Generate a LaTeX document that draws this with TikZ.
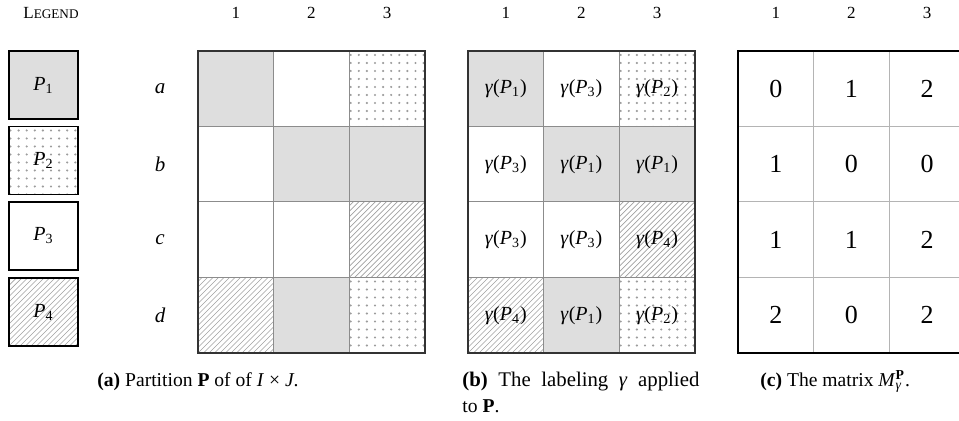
\documentclass[tikz,border=0pt]{standalone}
\usepackage{fontspec}
\setmainfont{Liberation Serif}
\definecolor{pfill}{HTML}{DEDEDE}
\definecolor{innerline}{HTML}{8C8C8C}
\definecolor{lightline}{HTML}{B4B4B4}
\definecolor{outerline}{HTML}{333333}
\definecolor{dotcol}{HTML}{9C9C9C}
\definecolor{hatchcol}{HTML}{A0A0A0}

% partition symbol P_k and its label gamma(P_k)
\newcommand\Pk[1]{\textit{P}\textsubscript{#1}}
\newcommand\gPk[1]{\textit{γ}(\Pk{#1})}
% one named cell of a grid
\newcommand\mkcell[5]{\node[cellbox,#4] (#1) at (#2,#3) {#5};}

\tikzset{
  cellbox/.style={minimum width=37.8pt, minimum height=37.75pt, inner sep=0pt,
    outer sep=0pt, draw=innerline, line width=0.5pt, font=\fontsize{10}{12}\selectfont},
  legbox/.style={minimum width=34.5pt, minimum height=34pt, inner sep=0pt,
    outer sep=0pt, draw=black, line width=0.6pt, font=\fontsize{10}{12}\selectfont},
  pone/.style={fill=pfill},
  pthree/.style={fill=white},
  ptwo/.style={path picture={
      \foreach \i in {0,...,9}{\foreach \j in {0,...,9}{
        \fill[dotcol] ([xshift=\i*4.05pt+0.75pt, yshift=-\j*4pt-2pt]path picture bounding box.north west) circle (0.6pt);}}}},
  pfour/.style={path picture={
      \foreach \k in {-16,...,16}{
        \draw[hatchcol, line width=0.35pt] ([xshift=\k*2.75pt]path picture bounding box.south west) -- ++(45pt,45pt);}}},
  numcell/.style={cellbox, draw=lightline, font=\fontsize{13}{15}\selectfont},
  frame/.style={draw=outerline, line width=0.8pt},
  hdr/.style={inner sep=0pt, font=\fontsize{8.5}{10}\selectfont},
  rowlab/.style={inner sep=0pt, font=\fontsize{10.5}{12}\selectfont\itshape},
  capt/.style={inner sep=0pt, anchor=base west, font=\fontsize{9.8}{13}\selectfont},
}

\begin{document}
\begin{tikzpicture}[x=0.5pt, y=-0.5pt]
\useasboundingbox (0,0) rectangle (959,421);

% ---- legend ----
\node[hdr] (leg) at (51,13) {{\fontsize{8.5}{10}\selectfont L}{\fontsize{6.6}{10}\selectfont EGEND}};
\node[legbox,pone]   (L1) at (43.5,85)  {\Pk{1}};
\node[legbox,ptwo]   (L2) at (43.5,160.5) {\Pk{2}};
\node[legbox,pthree] (L3) at (43.5,236) {\Pk{3}};
\node[legbox,pfour]  (L4) at (43.5,312) {\Pk{4}};

% ---- row labels ----
\node[rowlab] (ra) at (160,88.75)  {a};
\node[rowlab] (rb) at (160,164.25) {b};
\node[rowlab] (rc) at (160,239.75) {c};
\node[rowlab] (rd) at (160,315.25) {d};

% ---- column headers ----
\foreach \x/\n in {235.8/1,311.4/2,387/3}{\node[hdr] (ha\n) at (\x,13) {\n};}
\foreach \x/\n in {505.8/1,581.4/2,657/3}{\node[hdr] (hb\n) at (\x,13) {\n};}
\foreach \x/\n in {775.8/1,851.4/2,927/3}{\node[hdr] (hc\n) at (\x,13) {\n};}

% ---- (a) partition P ----
\mkcell{a11}{235.8}{88.75}{pone}{}
\mkcell{a12}{311.4}{88.75}{pthree}{}
\mkcell{a13}{387}{88.75}{ptwo}{}
\mkcell{a21}{235.8}{164.25}{pthree}{}
\mkcell{a22}{311.4}{164.25}{pone}{}
\mkcell{a23}{387}{164.25}{pone}{}
\mkcell{a31}{235.8}{239.75}{pthree}{}
\mkcell{a32}{311.4}{239.75}{pthree}{}
\mkcell{a33}{387}{239.75}{pfour}{}
\mkcell{a41}{235.8}{315.25}{pfour}{}
\mkcell{a42}{311.4}{315.25}{pone}{}
\mkcell{a43}{387}{315.25}{ptwo}{}
\draw[frame] (a11.north west) rectangle (a43.south east);

% ---- (b) labeling gamma ----
\mkcell{b11}{505.8}{88.75}{pone}{\gPk{1}}
\mkcell{b12}{581.4}{88.75}{pthree}{\gPk{3}}
\mkcell{b13}{657}{88.75}{ptwo}{\gPk{2}}
\mkcell{b21}{505.8}{164.25}{pthree}{\gPk{3}}
\mkcell{b22}{581.4}{164.25}{pone}{\gPk{1}}
\mkcell{b23}{657}{164.25}{pone}{\gPk{1}}
\mkcell{b31}{505.8}{239.75}{pthree}{\gPk{3}}
\mkcell{b32}{581.4}{239.75}{pthree}{\gPk{3}}
\mkcell{b33}{657}{239.75}{pfour}{\gPk{4}}
\mkcell{b41}{505.8}{315.25}{pfour}{\gPk{4}}
\mkcell{b42}{581.4}{315.25}{pone}{\gPk{1}}
\mkcell{b43}{657}{315.25}{ptwo}{\gPk{2}}
\draw[frame] (b11.north west) rectangle (b43.south east);

% ---- (c) matrix ----
\node[numcell] (c11) at (775.8,88.75) {0};
\node[numcell] (c12) at (851.4,88.75) {1};
\node[numcell] (c13) at (927,88.75) {2};
\node[numcell] (c21) at (775.8,164.25) {1};
\node[numcell] (c22) at (851.4,164.25) {0};
\node[numcell] (c23) at (927,164.25) {0};
\node[numcell] (c31) at (775.8,239.75) {1};
\node[numcell] (c32) at (851.4,239.75) {1};
\node[numcell] (c33) at (927,239.75) {2};
\node[numcell] (c41) at (775.8,315.25) {2};
\node[numcell] (c42) at (851.4,315.25) {0};
\node[numcell] (c43) at (927,315.25) {2};
\draw[frame, draw=black] (c11.north west) rectangle (c43.south east);

% ---- captions ----
\node[capt] (capa) at (97,387) {\textbf{(a)} Partition \textbf{P} of of \textit{I} × \textit{J}.};
\node[capt, font=\fontsize{10.4}{13}\selectfont] (capb) at (462,387) {\makebox[118.5pt][s]{\textbf{(b)} The labeling \textit{γ} applied}};
\node[capt] (capb2) at (462,413) {to \textbf{P}.};
\node[capt] (capc) at (760,387) {\textbf{(c)} The matrix \textit{M}\rlap{\textsubscript{\textit{γ}}}\textsuperscript{\textbf{P}}.};
\end{tikzpicture}
\end{document}
